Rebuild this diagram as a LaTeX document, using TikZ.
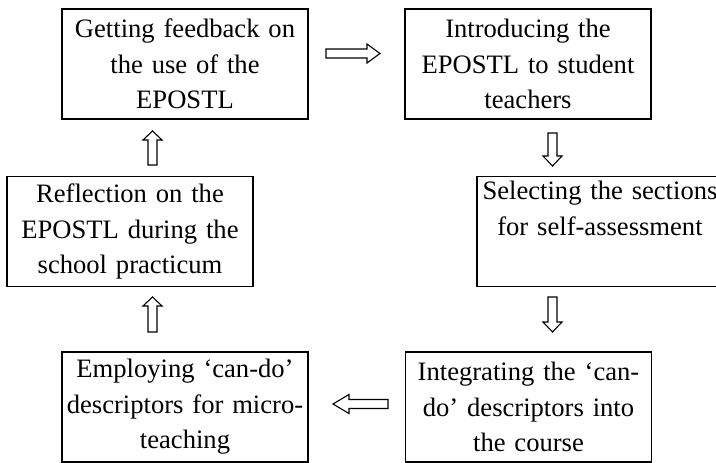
\documentclass[tikz,border=0pt]{standalone}
\usepackage{fontspec}
\setmainfont{Liberation Serif}
\begin{document}
\begin{tikzpicture}[x=1pt,y=-1pt,
  stagebox/.style={draw, line width=1.5pt, minimum width=246pt, minimum height=110pt,
    text width=240pt, align=center, inner sep=0pt,
    font=\fontsize{26.6pt}{35.5pt}\selectfont},
  pics/blockarr/.style 2 args={code={
    \draw[line width=1.1pt, line join=miter]
      (0,-4.5) -- ({#1-#2},-4.5) -- ({#1-#2},-9.5) -- (#1,0) -- ({#1-#2},9.5)
      -- ({#1-#2},4.5) -- (0,4.5) -- cycle;}}]
\useasboundingbox (0,0) rectangle (716,463);
\node[stagebox] (feedback) at (185,64) {Getting feedback on\\the use of the\\EPOSTL};
\node[stagebox] (intro) at (528,64) {Introducing the\\EPOSTL to student\\teachers};
\node[stagebox] (select) at (600,231.5) {Selecting the sections\\for self-assessment\\\strut};
\node[stagebox] (reflect) at (130,231.5) {Reflection on the\\EPOSTL during the\\school practicum};
\node[stagebox] (integrate) at (528.5,407) {Integrating the ‘can-\\do’ descriptors into\\the course};
\node[stagebox] (employ) at (185,407) {Employing ‘can-do’\\descriptors for micro-\\teaching};
\coordinate (t1) at (326,53.5);
\coordinate (t2) at (552.5,133);
\coordinate (t3) at (552.5,297);
\coordinate (t4) at (388,404);
\coordinate (t5) at (152.5,332);
\coordinate (t6) at (152.5,165);
\pic at (t1) {blockarr={54}{13}};
\pic[rotate=-90] at (t2) {blockarr={33}{10}};
\pic[rotate=-90] at (t3) {blockarr={35}{10}};
\pic[rotate=180] at (t4) {blockarr={55}{16}};
\pic[rotate=90] at (t5) {blockarr={35}{9}};
\pic[rotate=90] at (t6) {blockarr={34}{9}};
\end{tikzpicture}
\end{document}
